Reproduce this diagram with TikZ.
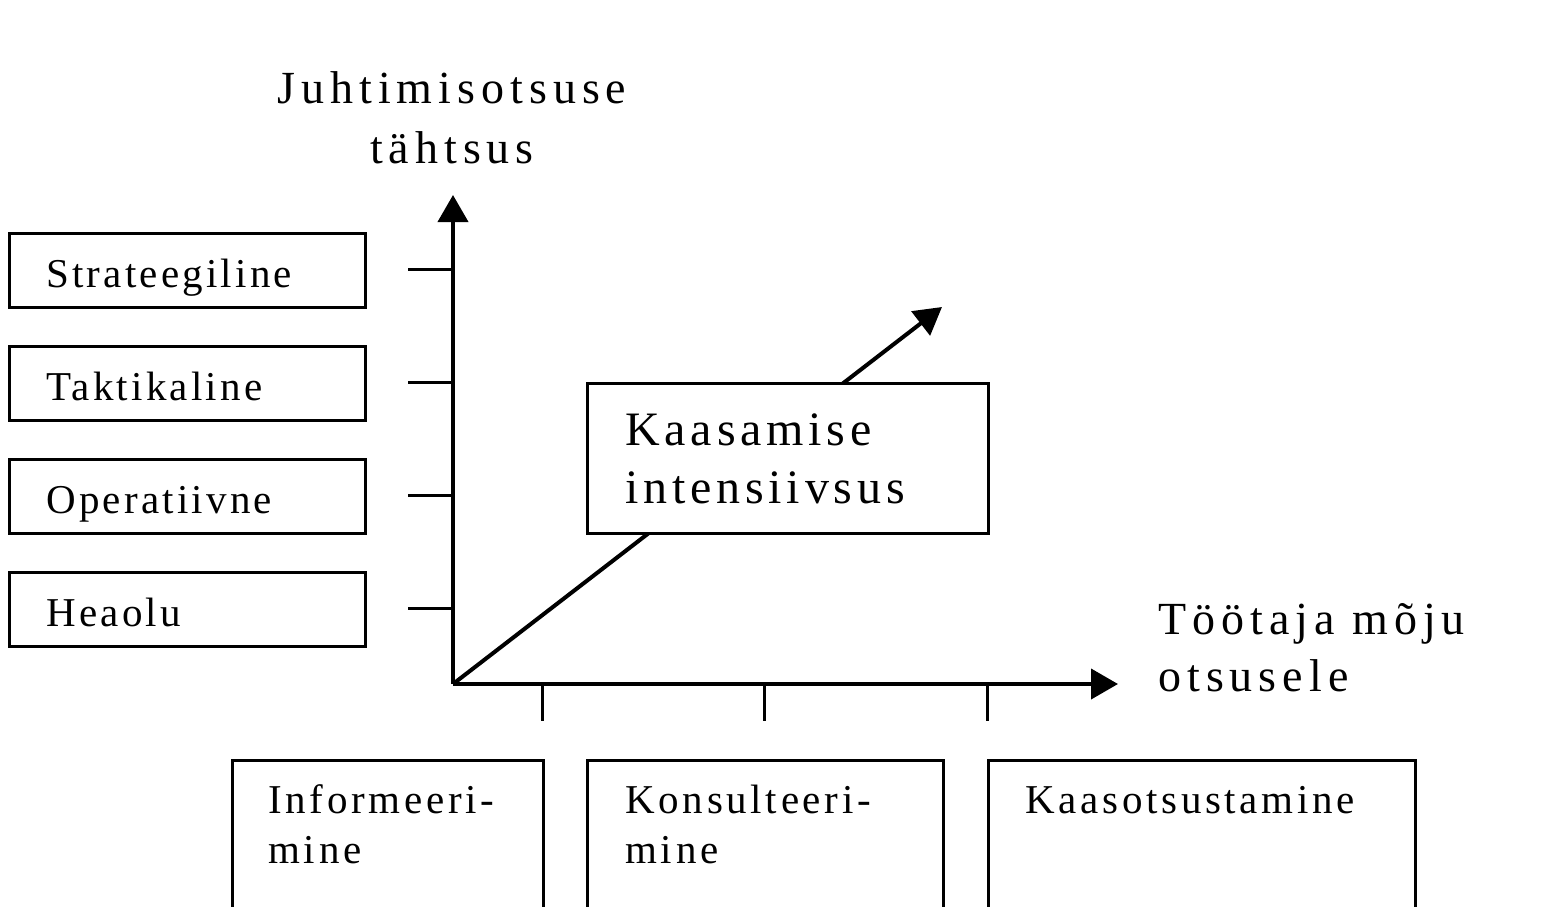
\documentclass[tikz,border=0pt]{standalone}
\usepackage{fontspec}
\setmainfont{Liberation Serif}
\usetikzlibrary{arrows.meta}
\begin{document}
\begin{tikzpicture}[x=0.5pt,y=-0.5pt,
  box/.style={draw, line width=1.5pt, fill=white, inner sep=0pt, anchor=north west},
  axis/.style={line width=2pt, -{Triangle[length=13.5pt,width=15pt]}},
  tick/.style={line width=1.5pt},
  lbl/.style={anchor=base west, inner sep=0pt, font=\addfontfeature{LetterSpace=7.8}\fontsize{20.5}{24}\selectfont},
  blbl/.style={anchor=base west, inner sep=0pt, font=\addfontfeature{LetterSpace=9}\fontsize{20.5}{24}\selectfont},
  biglbl/.style={anchor=base west, inner sep=0pt, font=\addfontfeature{LetterSpace=10}\fontsize{24}{28}\selectfont},
  axlbl/.style={inner sep=0pt, font=\addfontfeature{LetterSpace=13}\fontsize{23}{27}\selectfont}]
\useasboundingbox (0,0) rectangle (1554,906);
\clip (0,0) rectangle (1554,906);
% coordinates
\coordinate (O) at (453,684);
\coordinate (ytip) at (453,195);
\coordinate (xtip) at (1118,684);
\coordinate (dtip) at (942,307);
% axes
\draw[axis] (O) -- (ytip);
\draw[axis] (O) -- (xtip);
\draw[axis] (O) -- (dtip);
% left boxes
\node[box, minimum width=178pt, minimum height=37pt] (bs) at (8,232) {};
\node[box, minimum width=178pt, minimum height=37pt] (bt) at (8,345) {};
\node[box, minimum width=178pt, minimum height=37pt] (bo) at (8,458) {};
\node[box, minimum width=178pt, minimum height=37pt] (bh) at (8,571) {};
\node[lbl] (ts) at (46,287) {Strateegiline};
\node[lbl] (tt) at (46,400) {Taktikaline};
\node[lbl] (to) at (46,513) {Operatiivne};
\node[lbl] (th) at (46,626) {Heaolu};
% y ticks
\coordinate (ys) at (453,269);
\coordinate (yt) at (453,382);
\coordinate (yo) at (453,495);
\coordinate (yh) at (453,608);
\coordinate (ys0) at (408,269);
\coordinate (yt0) at (408,382);
\coordinate (yo0) at (408,495);
\coordinate (yh0) at (408,608);
\draw[tick] (ys0) -- (ys);
\draw[tick] (yt0) -- (yt);
\draw[tick] (yo0) -- (yo);
\draw[tick] (yh0) -- (yh);
% x ticks
\coordinate (xi) at (542,684);
\coordinate (xk) at (764,684);
\coordinate (xa) at (987,684);
\coordinate (xi0) at (542,721);
\coordinate (xk0) at (764,721);
\coordinate (xa0) at (987,721);
\draw[tick] (xi) -- (xi0);
\draw[tick] (xk) -- (xk0);
\draw[tick] (xa) -- (xa0);
% middle box
\node[box, minimum width=200.5pt, minimum height=75pt] (kb) at (586,382) {};
\node[biglbl] (k1) at (625,445) {Kaasamise};
\node[biglbl] (k2) at (625,503) {intensiivsus};
% bottom boxes
\node[box, minimum width=155.5pt, minimum height=100pt] (bi) at (231,759) {};
\node[box, minimum width=178pt, minimum height=100pt] (bk) at (586,759) {};
\node[box, minimum width=213.5pt, minimum height=100pt] (ba) at (987,759) {};
\node[blbl] (i1) at (268,813) {Informeeri-};
\node[blbl] (i2) at (268,863) {mine};
\node[blbl] (c1) at (625,813) {Konsulteeri-};
\node[blbl] (c2) at (625,863) {mine};
\node[blbl] (a1) at (1025,813) {Kaasotsustamine};
% axis labels
\node[axlbl, anchor=base] (j1) at (452,103) {Juhtimisotsuse};
\node[axlbl, anchor=base] (j2) at (452,163) {tähtsus};
\node[axlbl, anchor=base west] (m1) at (1158,634) {Töötaja mõju};
\node[axlbl, anchor=base west] (m2) at (1158,691) {otsusele};
\end{tikzpicture}
\end{document}
